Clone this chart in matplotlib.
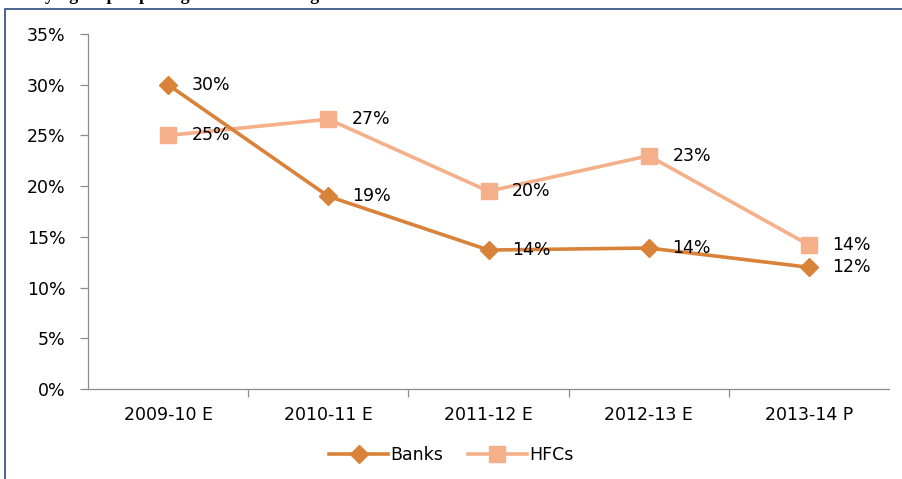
import matplotlib
matplotlib.use("Agg")
import matplotlib.pyplot as plt
from matplotlib.patches import Rectangle

categories = ["2009-10 E", "2010-11 E", "2011-12 E", "2012-13 E", "2013-14 P"]
banks = [30.0, 19.0, 13.7, 13.9, 12.0]
hfcs = [25.0, 26.6, 19.5, 23.0, 14.2]
banks_labels = ["30%", "19%", "14%", "14%", "12%"]
hfcs_labels = ["25%", "27%", "20%", "23%", "14%"]
yticks = [0, 5, 10, 15, 20, 25, 30, 35]

# the source image is stretched sideways, so a wide face fits it best
plt.rcParams["font.family"] = ["DejaVu Sans"]
FS = 12.5
BANK_C = "#D8823A"
HFC_C = "#F5B08A"
AXIS_C = "#8C8C8C"

fig = plt.figure(figsize=(9.03, 4.79), dpi=100)
ax = fig.add_axes([88 / 903, 1 - 389 / 479, 801 / 903, 355 / 479])

x = list(range(len(categories)))
ax.plot(x, hfcs, color=HFC_C, lw=2.6, marker="s", ms=12, mec=HFC_C, label="HFCs", zorder=3)
ax.plot(x, banks, color=BANK_C, lw=2.6, marker="D", ms=9.5, mec=BANK_C, label="Banks", zorder=4)

for xi, v, t in zip(x, banks, banks_labels):
    ax.annotate(t, (xi, v), xytext=(17, 0), textcoords="offset points",
                ha="left", va="center", fontsize=FS, zorder=5)
for xi, v, t in zip(x, hfcs, hfcs_labels):
    ax.annotate(t, (xi, v), xytext=(17, 0), textcoords="offset points",
                ha="left", va="center", fontsize=FS, zorder=5)

ax.set_xlim(-0.5, len(categories) - 0.5)
ax.set_ylim(0, 35)
ax.set_yticks(yticks)
ax.set_yticklabels([f"{t}%" for t in yticks], fontsize=FS)
ax.set_xticks(x)
ax.set_xticklabels(categories, fontsize=FS)
ax.tick_params(axis="x", length=0, pad=12)
ax.set_xticks([i + 0.5 for i in x[:-1]], minor=True)
ax.tick_params(axis="x", which="minor", length=6, color=AXIS_C, width=0.9)
ax.tick_params(axis="y", length=6, color=AXIS_C, width=0.9, pad=10)
for s in ["top", "right"]:
    ax.spines[s].set_visible(False)
for s in ["left", "bottom"]:
    ax.spines[s].set_color(AXIS_C)
    ax.spines[s].set_linewidth(0.9)

h, l = ax.get_legend_handles_labels()
fig.legend(h[::-1], l[::-1], loc="center", bbox_to_anchor=(0.5, 1 - 455 / 479), ncol=2,
           frameon=False, fontsize=FS, handlelength=3.4, handletextpad=0.15, columnspacing=1.4)

# frame of the source document box
fig.add_artist(Rectangle((5 / 903, -0.05), 1.1, 1 - 9 / 479 + 0.05, transform=fig.transFigure,
                         fill=False, edgecolor="#2E4C7E", lw=1.2))
# clipped heading above the box (only its lower edge shows in the source)
fig.text(20 / 903, 1 - 0.5 / 479, "Staying scope up for growth in housing used loan schemes",
         family="Liberation Serif", weight="bold", fontsize=13, va="baseline", ha="left")

fig.savefig("out.png", dpi=100)
